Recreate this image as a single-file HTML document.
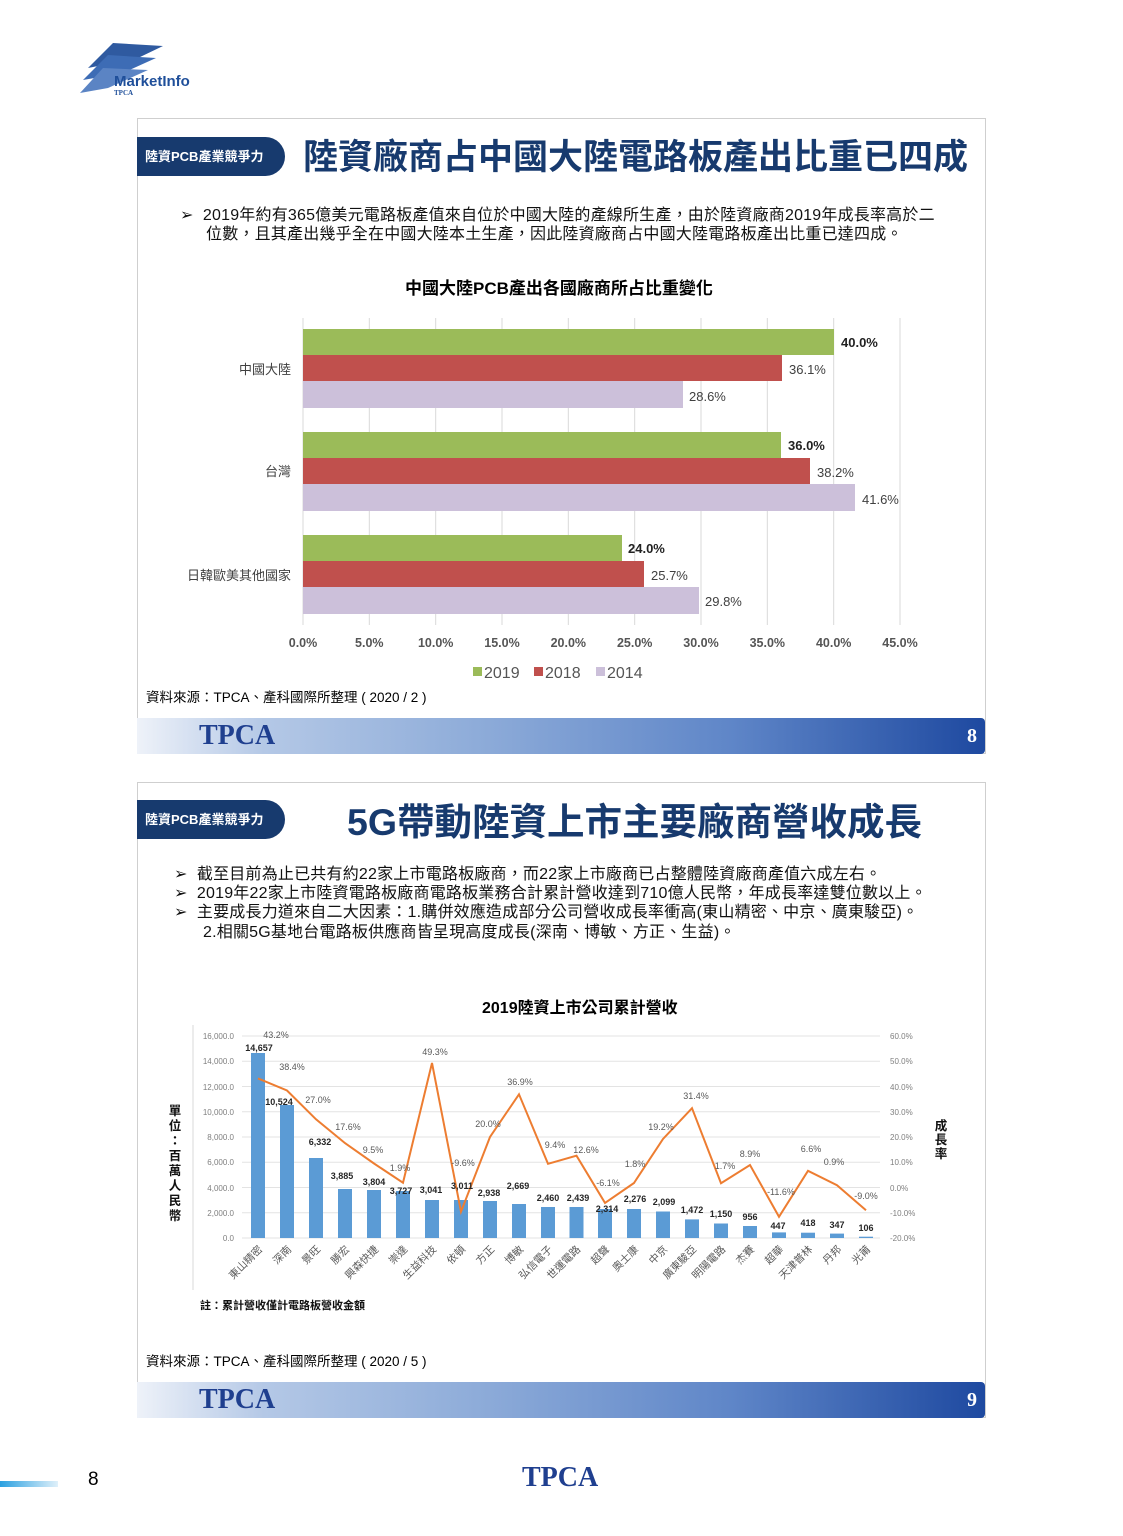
<!DOCTYPE html>
<html><head><meta charset="utf-8"><style>
body{margin:0;width:1123px;height:1536px;background:#fff;position:relative;overflow:hidden;font-family:"Liberation Sans","Noto Sans CJK TC",sans-serif}
.a{position:absolute;white-space:nowrap}
.box{position:absolute;left:137px;width:847px;height:634px;border:1px solid #cfcfcf;background:#fff}
.badge{position:absolute;left:137px;width:148px;height:39px;background:#173a6e;border-radius:0 20px 20px 0;color:#fff;font-size:13px;font-weight:bold;line-height:39px;text-indent:8px}
.foot{position:absolute;left:137px;width:848px;height:36px;background:linear-gradient(90deg,#eef2f9 0%,#b4c8e6 15%,#8eacd9 40%,#5f86c8 70%,#1e49a0 100%);border-radius:0 4px 4px 0}
.foot .t{position:absolute;left:62px;top:0;font-family:"Liberation Serif",serif;font-weight:bold;color:#1f3f8f;font-size:28px;line-height:36px}
.foot .n{position:absolute;right:8px;top:0;font-family:"Liberation Serif",serif;font-weight:bold;color:#fff;font-size:20px;line-height:36px}
.title{color:#173a6e;font-size:35px;font-weight:bold}
.bl{font-size:16px;color:#111;letter-spacing:0.2px}
</style></head><body>
<svg class="a" style="left:78px;top:38px" width="130" height="60">
<polygon points="10,30 35,5 85,8 60,20" fill="#2f5aa0"/>
<polygon points="5,42 30,17 78,20 45,35" fill="#3d6cb5"/>
<polygon points="2,55 25,30 70,32 30,50" fill="#5b84c4"/>
<text x="36" y="48" font-family="Liberation Sans" font-weight="bold" font-size="15" fill="#1f4f9a">MarketInfo</text>
<text x="36" y="57" font-family="Liberation Serif" font-weight="bold" font-size="7" fill="#1f4f9a">TPCA</text>
</svg>

<div class="box" style="top:118px"></div>
<div class="badge" style="top:137px">陸資PCB產業競爭力</div>
<div class="a title" style="left:303px;top:129px">陸資廠商占中國大陸電路板產出比重已四成</div>
<div class="a bl" style="left:180px;top:201px">➢&nbsp; 2019年約有365億美元電路板產值來自位於中國大陸的產線所生產，由於陸資廠商2019年成長率高於二</div>
<div class="a bl" style="left:206px;top:220px">位數，且其產出幾乎全在中國大陸本土生產，因此陸資廠商占中國大陸電路板產出比重已達四成。</div>
<div class="a" style="left:405px;top:274px;font-size:17px;font-weight:bold">中國大陸PCB產出各國廠商所占比重變化</div>
<svg class="a" style="left:0;top:0" width="1123" height="720" font-family="Liberation Sans,Noto Sans CJK TC,sans-serif">
<g stroke="#d9d9d9" stroke-width="1">
<line x1="303" y1="318" x2="303" y2="625"/><line x1="369.3" y1="318" x2="369.3" y2="625"/><line x1="435.7" y1="318" x2="435.7" y2="625"/><line x1="502" y1="318" x2="502" y2="625"/><line x1="568.3" y1="318" x2="568.3" y2="625"/><line x1="634.7" y1="318" x2="634.7" y2="625"/><line x1="701" y1="318" x2="701" y2="625"/><line x1="767.3" y1="318" x2="767.3" y2="625"/><line x1="833.7" y1="318" x2="833.7" y2="625"/><line x1="900" y1="318" x2="900" y2="625"/>
</g>
<rect x="303" y="329" width="531" height="26" fill="#9bbb59"/>
<rect x="303" y="355" width="479" height="26" fill="#c0504d"/>
<rect x="303" y="381" width="380" height="27" fill="#ccc0da"/>
<rect x="303" y="432" width="478" height="26" fill="#9bbb59"/>
<rect x="303" y="458" width="507" height="26" fill="#c0504d"/>
<rect x="303" y="484" width="552" height="27" fill="#ccc0da"/>
<rect x="303" y="535" width="319" height="26" fill="#9bbb59"/>
<rect x="303" y="561" width="341" height="26" fill="#c0504d"/>
<rect x="303" y="587" width="396" height="27" fill="#ccc0da"/>
<g font-size="13" fill="#404040">
<text x="841" y="347" font-weight="bold" fill="#222">40.0%</text><text x="789" y="374">36.1%</text><text x="689" y="401">28.6%</text>
<text x="788" y="450" font-weight="bold" fill="#222">36.0%</text><text x="817" y="477">38.2%</text><text x="862" y="504">41.6%</text>
<text x="628" y="553" font-weight="bold" fill="#222">24.0%</text><text x="651" y="580">25.7%</text><text x="705" y="606">29.8%</text>
</g>
<g font-size="13" fill="#404040" text-anchor="end">
<text x="291" y="374">中國大陸</text><text x="291" y="476">台灣</text><text x="291" y="580">日韓歐美其他國家</text>
</g>
<g font-size="12.5" font-weight="bold" fill="#555" text-anchor="middle">
<text x="303" y="647">0.0%</text><text x="369.3" y="647">5.0%</text><text x="435.7" y="647">10.0%</text><text x="502" y="647">15.0%</text><text x="568.3" y="647">20.0%</text><text x="634.7" y="647">25.0%</text><text x="701" y="647">30.0%</text><text x="767.3" y="647">35.0%</text><text x="833.7" y="647">40.0%</text><text x="900" y="647">45.0%</text>
</g>
<rect x="473" y="667" width="9" height="9" fill="#9bbb59"/><text x="484" y="678" font-size="16" fill="#555">2019</text>
<rect x="534" y="667" width="9" height="9" fill="#c0504d"/><text x="545" y="678" font-size="16" fill="#555">2018</text>
<rect x="596" y="667" width="9" height="9" fill="#ccc0da"/><text x="607" y="678" font-size="16" fill="#555">2014</text>
</svg>
<div class="a" style="left:146px;top:686px;font-size:13.5px">資料來源：TPCA、產科國際所整理 ( 2020 / 2 )</div>
<div class="foot" style="top:718px"><span class="t">TPCA</span><span class="n">8</span></div>

<div class="box" style="top:782px"></div>
<div class="badge" style="top:800px">陸資PCB產業競爭力</div>
<div class="a title" style="left:347px;top:791px;font-size:37.5px">5G帶動陸資上市主要廠商營收成長</div>
<div class="a bl" style="left:174px;top:860px">➢&nbsp; 截至目前為止已共有約22家上市電路板廠商，而22家上市廠商已占整體陸資廠商產值六成左右。</div>
<div class="a bl" style="left:174px;top:879px">➢&nbsp; 2019年22家上市陸資電路板廠商電路板業務合計累計營收達到710億人民幣，年成長率達雙位數以上。</div>
<div class="a bl" style="left:174px;top:898px">➢&nbsp; 主要成長力道來自二大因素：1.購併效應造成部分公司營收成長率衝高(東山精密、中京、廣東駿亞)。</div>
<div class="a bl" style="left:203px;top:918px">2.相關5G基地台電路板供應商皆呈現高度成長(深南、博敏、方正、生益)。</div>
<div class="a" style="left:482px;top:994px;font-size:16px;font-weight:bold">2019陸資上市公司累計營收</div>
<svg class="a" style="left:0;top:1000px" width="1123" height="320" font-family="Liberation Sans,Noto Sans CJK TC,sans-serif">
<g transform="translate(0,-1000)">
<line x1="193" y1="1025" x2="193" y2="1290" stroke="#d9d9d9"/>
<g stroke="#e3e3e3"><line x1="242" y1="1036" x2="880" y2="1036"/><line x1="242" y1="1061.25" x2="880" y2="1061.25"/><line x1="242" y1="1086.5" x2="880" y2="1086.5"/><line x1="242" y1="1111.75" x2="880" y2="1111.75"/><line x1="242" y1="1137" x2="880" y2="1137"/><line x1="242" y1="1162.25" x2="880" y2="1162.25"/><line x1="242" y1="1187.5" x2="880" y2="1187.5"/><line x1="242" y1="1212.75" x2="880" y2="1212.75"/><line x1="242" y1="1238" x2="880" y2="1238"/></g>
<g font-size="8" fill="#7f7f7f" text-anchor="end">
<text x="234" y="1039">16,000.0</text><text x="234" y="1064">14,000.0</text><text x="234" y="1090">12,000.0</text><text x="234" y="1115">10,000.0</text><text x="234" y="1140">8,000.0</text><text x="234" y="1165">6,000.0</text><text x="234" y="1191">4,000.0</text><text x="234" y="1216">2,000.0</text><text x="234" y="1241">0.0</text>
</g>
<g font-size="8" fill="#7f7f7f">
<text x="890" y="1039">60.0%</text><text x="890" y="1064">50.0%</text><text x="890" y="1090">40.0%</text><text x="890" y="1115">30.0%</text><text x="890" y="1140">20.0%</text><text x="890" y="1165">10.0%</text><text x="890" y="1191">0.0%</text><text x="890" y="1216">-10.0%</text><text x="890" y="1241">-20.0%</text>
</g>
<g fill="#5b9bd5">
<rect x="251" y="1053" width="14" height="185"/><rect x="280" y="1105" width="14" height="133"/><rect x="309" y="1158" width="14" height="80"/><rect x="338" y="1189" width="14" height="49"/><rect x="367" y="1190" width="14" height="48"/><rect x="396" y="1191" width="14" height="47"/><rect x="425" y="1200" width="14" height="38"/><rect x="454" y="1200" width="14" height="38"/><rect x="483" y="1201" width="14" height="37"/><rect x="512" y="1204" width="14" height="34"/><rect x="541" y="1207" width="14" height="31"/><rect x="569.5" y="1207" width="14" height="31"/><rect x="598" y="1209" width="14" height="29"/><rect x="627" y="1209" width="14" height="29"/><rect x="656" y="1211.5" width="14" height="26.5"/><rect x="685" y="1219.4" width="14" height="18.6"/><rect x="714" y="1223.5" width="14" height="14.5"/><rect x="743" y="1226" width="14" height="12"/><rect x="772" y="1232.4" width="14" height="5.6"/><rect x="801" y="1232.7" width="14" height="5.3"/><rect x="830" y="1233.6" width="14" height="4.4"/><rect x="859" y="1236.7" width="14" height="1.3"/>
</g>
<polyline fill="none" stroke="#ed7d31" stroke-width="2" points="258,1078.4 287,1090.5 316,1119.3 345,1143.1 374,1163.5 403,1182.7 432,1063 461,1211.7 490,1137 519,1094.3 548,1163.8 576.5,1155.7 605,1202.9 634,1183 663,1139 692,1108.2 721,1183.2 750,1165 779,1216.8 808,1170.8 837,1185.2 866,1210.2"/>
<g font-size="9" fill="#595959" text-anchor="middle" dominant-baseline="central">
<text x="276" y="1035">43.2%</text><text x="292" y="1067">38.4%</text><text x="318" y="1100">27.0%</text><text x="348" y="1127">17.6%</text><text x="373" y="1150">9.5%</text><text x="400" y="1168">1.9%</text><text x="435" y="1052">49.3%</text><text x="463" y="1163">-9.6%</text><text x="488" y="1124">20.0%</text><text x="520" y="1082">36.9%</text><text x="555" y="1145">9.4%</text><text x="586" y="1150">12.6%</text><text x="608" y="1183">-6.1%</text><text x="635" y="1164">1.8%</text><text x="661" y="1127">19.2%</text><text x="696" y="1096">31.4%</text><text x="725" y="1166">1.7%</text><text x="750" y="1154">8.9%</text><text x="781" y="1192">-11.6%</text><text x="811" y="1149">6.6%</text><text x="834" y="1162">0.9%</text><text x="866" y="1196">-9.0%</text>
</g>
<g font-size="9" font-weight="bold" fill="#262626" text-anchor="middle" dominant-baseline="central">
<text x="259" y="1048">14,657</text><text x="279" y="1102">10,524</text><text x="320" y="1142">6,332</text><text x="342" y="1176">3,885</text><text x="374" y="1182">3,804</text><text x="401" y="1191">3,727</text><text x="431" y="1190">3,041</text><text x="462" y="1186">3,011</text><text x="489" y="1193">2,938</text><text x="518" y="1186">2,669</text><text x="548" y="1198">2,460</text><text x="578" y="1198">2,439</text><text x="607" y="1209">2,314</text><text x="635" y="1199">2,276</text><text x="664" y="1202">2,099</text><text x="692" y="1210">1,472</text><text x="721" y="1214">1,150</text><text x="750" y="1217">956</text><text x="778" y="1226">447</text><text x="808" y="1223">418</text><text x="837" y="1225">347</text><text x="866" y="1228">106</text>
</g>
<g font-size="10.5" fill="#595959" text-anchor="end">
<text transform="translate(263,1250) rotate(-45)">東山精密</text><text transform="translate(292,1250) rotate(-45)">深南</text><text transform="translate(321,1250) rotate(-45)">景旺</text><text transform="translate(350,1250) rotate(-45)">勝宏</text><text transform="translate(379,1250) rotate(-45)">興森快捷</text><text transform="translate(408,1250) rotate(-45)">崇達</text><text transform="translate(437,1250) rotate(-45)">生益科技</text><text transform="translate(466,1250) rotate(-45)">依頓</text><text transform="translate(495,1250) rotate(-45)">方正</text><text transform="translate(524,1250) rotate(-45)">博敏</text><text transform="translate(553,1250) rotate(-45)">弘信電子</text><text transform="translate(581,1250) rotate(-45)">世運電路</text><text transform="translate(610,1250) rotate(-45)">超聲</text><text transform="translate(639,1250) rotate(-45)">奧士康</text><text transform="translate(668,1250) rotate(-45)">中京</text><text transform="translate(697,1250) rotate(-45)">廣東駿亞</text><text transform="translate(726,1250) rotate(-45)">明陽電路</text><text transform="translate(755,1250) rotate(-45)">杰賽</text><text transform="translate(784,1250) rotate(-45)">超華</text><text transform="translate(813,1250) rotate(-45)">天津普林</text><text transform="translate(842,1250) rotate(-45)">丹邦</text><text transform="translate(871,1250) rotate(-45)">光莆</text>
</g>
<g font-size="12.5" font-weight="bold" fill="#111" text-anchor="middle">
<text x="175" y="1115">單</text><text x="175" y="1130">位</text><text x="175" y="1145">：</text><text x="175" y="1160">百</text><text x="175" y="1175">萬</text><text x="175" y="1190">人</text><text x="175" y="1205">民</text><text x="175" y="1220">幣</text>
<text x="941" y="1130">成</text><text x="941" y="1144">長</text><text x="941" y="1158">率</text>
</g>
<text x="200" y="1309" font-size="11" font-weight="bold" fill="#111">註：累計營收僅計電路板營收金額</text>
</g></svg>
<div class="a" style="left:146px;top:1350px;font-size:13.5px">資料來源：TPCA、產科國際所整理 ( 2020 / 5 )</div>
<div class="foot" style="top:1382px"><span class="t">TPCA</span><span class="n">9</span></div>

<div class="a" style="left:0;top:1481px;width:58px;height:6px;background:linear-gradient(90deg,#2aa0e0,#dff0fa)"></div>
<div class="a" style="left:88px;top:1469px;font-size:19px">8</div>
<div class="a" style="left:522px;top:1462px;font-family:'Liberation Serif',serif;font-weight:bold;font-size:28px;color:#1f3f8f">TPCA</div>
</body></html>
